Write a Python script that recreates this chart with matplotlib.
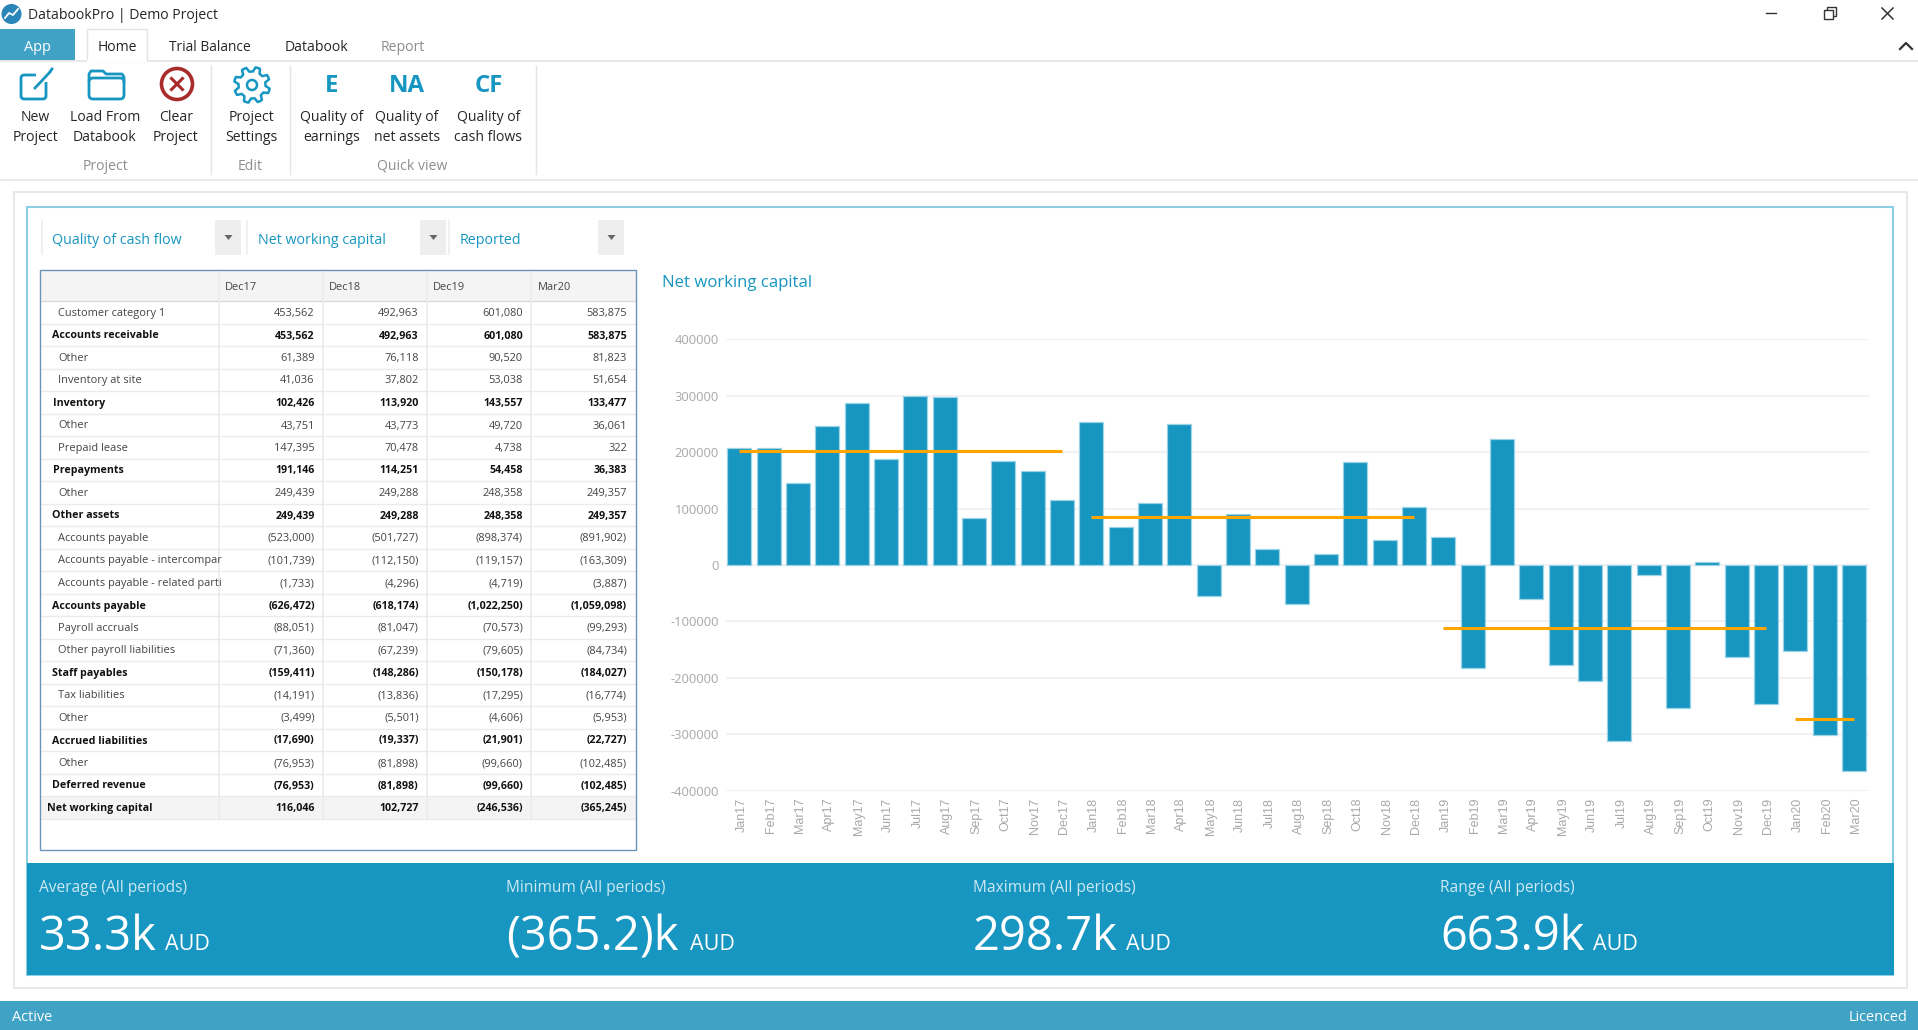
"""DatabookPro net working capital screen, rebuilt with matplotlib."""

import numpy as np
import matplotlib
matplotlib.use("Agg")
import matplotlib.pyplot as plt
from matplotlib.patches import Rectangle, FancyBboxPatch, Circle, Polygon
from matplotlib.transforms import ScaledTranslation

plt.rcParams["font.family"] = ["Open Sans", "DejaVu Sans"]

W, H = 1918, 1030

BLUE = "#1796C1"
BAR_EDGE = "#9CD3E6"
STATUS = "#40A3C6"
ORANGE = "#FFA500"
TEXT = "#262626"
GREY = "#8E8E8E"
LINE = "#E4E4E4"

# chart data
months = ["Jan17", "Feb17", "Mar17", "Apr17", "May17", "Jun17", "Jul17", "Aug17", "Sep17", "Oct17",
          "Nov17", "Dec17", "Jan18", "Feb18", "Mar18", "Apr18", "May18", "Jun18", "Jul18", "Aug18",
          "Sep18", "Oct18", "Nov18", "Dec18", "Jan19", "Feb19", "Mar19", "Apr19", "May19", "Jun19",
          "Jul19", "Aug19", "Sep19", "Oct19", "Nov19", "Dec19", "Jan20", "Feb20", "Mar20"]
nwc = [208000, 207000, 145500, 246000, 287000, 188000, 298700, 297600, 83400, 184600,
       166900, 116046, 253000, 68000, 110000, 250000, -54400, 90500, 27800, -69800,
       19000, 182000, 43800, 102727, 49700, -182000, 223000, -59800, -177000, -204700,
       -312000, -18300, -253000, 5300, -162700, -246536, -152000, -300500, -365245]
yticks = [400000, 300000, 200000, 100000, 0, -100000, -200000, -300000, -400000]

# yearly averages: first month index, last month index, value
avg_start = [0, 12, 24, 36]
avg_end = [11, 23, 35, 38]
avg_value = [202400, 85200, -111800, -272900]

# table data
table_cols = ["Dec17", "Dec18", "Dec19", "Mar20"]
row_labels = ["Customer category 1", "Accounts receivable", "Other", "Inventory at site", "Inventory",
              "Other", "Prepaid lease", "Prepayments", "Other", "Other assets", "Accounts payable",
              "Accounts payable - intercompar", "Accounts payable - related parti", "Accounts payable",
              "Payroll accruals", "Other payroll liabilities", "Staff payables", "Tax liabilities",
              "Other", "Accrued liabilities", "Other", "Deferred revenue", "Net working capital"]
bold_rows = [1, 4, 7, 9, 13, 16, 19, 21, 22]
dec17 = ["453,562", "453,562", "61,389", "41,036", "102,426", "43,751", "147,395", "191,146", "249,439",
         "249,439", "(523,000)", "(101,739)", "(1,733)", "(626,472)", "(88,051)", "(71,360)", "(159,411)",
         "(14,191)", "(3,499)", "(17,690)", "(76,953)", "(76,953)", "116,046"]
dec18 = ["492,963", "492,963", "76,118", "37,802", "113,920", "43,773", "70,478", "114,251", "249,288",
         "249,288", "(501,727)", "(112,150)", "(4,296)", "(618,174)", "(81,047)", "(67,239)", "(148,286)",
         "(13,836)", "(5,501)", "(19,337)", "(81,898)", "(81,898)", "102,727"]
dec19 = ["601,080", "601,080", "90,520", "53,038", "143,557", "49,720", "4,738", "54,458", "248,358",
         "248,358", "(898,374)", "(119,157)", "(4,719)", "(1,022,250)", "(70,573)", "(79,605)", "(150,178)",
         "(17,295)", "(4,606)", "(21,901)", "(99,660)", "(99,660)", "(246,536)"]
mar20 = ["583,875", "583,875", "81,823", "51,654", "133,477", "36,061", "322", "36,383", "249,357",
         "249,357", "(891,902)", "(163,309)", "(3,887)", "(1,059,098)", "(99,293)", "(84,734)", "(184,027)",
         "(16,774)", "(5,953)", "(22,727)", "(102,485)", "(102,485)", "(365,245)"]

# KPI band
kpi_labels = ["Average (All periods)", "Minimum (All periods)", "Maximum (All periods)", "Range (All periods)"]
kpi_values = ["33.3k", "(365.2)k", "298.7k", "663.9k"]


def fs(px):
    return px * 0.72


fig = plt.figure(figsize=(W / 100, H / 100), dpi=100, facecolor="white")
ui = fig.add_axes([0, 0, 1, 1])
ui.set_xlim(0, W)
ui.set_ylim(H, 0)
ui.axis("off")


def rect(x0, y0, x1, y1, fc="none", ec="none", lw=1.0, z=1):
    ui.add_patch(Rectangle((x0, y0), x1 - x0, y1 - y0, facecolor=fc, edgecolor=ec, linewidth=lw, zorder=z))


def label(x, y, s, size=15, color=TEXT, ha="left", va="center", **kw):
    if va == "center":
        y = y + 1.2  # Open Sans sits a little high against the original UI font
    return ui.text(x, y, s, fontsize=fs(size), color=color, ha=ha, va=va, zorder=5, **kw)


# ------------------------------------------------------------------ #
# title bar and ribbon
# ------------------------------------------------------------------ #
ui.add_patch(Circle((11.5, 14), 10, facecolor="#2A86B8", zorder=3))
ui.plot([5, 9, 13, 18], [18, 13, 15, 9], color="white", lw=1.3, zorder=4)
label(28, 14.5, "DatabookPro | Demo Project", 14)

# window buttons
ui.plot([1766, 1776], [13, 13], color="#333333", lw=1)
rect(1827, 7, 1836, 16, ec="#333333", z=2)
rect(1824, 10, 1833, 19, fc="white", ec="#333333", z=3)
ui.plot([1882, 1893], [8, 19], color="#333333", lw=1.1)
ui.plot([1882, 1893], [19, 8], color="#333333", lw=1.1)
ui.plot([1900, 1906, 1912], [49, 43, 49], color="#333333", lw=1.6)

rect(0, 29, 75, 60, fc=STATUS)
label(37.5, 46, "App", 14.5, "white", ha="center")
ui.plot([0, W], [60.5, 60.5], color=LINE, lw=1.2, zorder=2)
rect(87, 29, 146.5, 61, fc="white", ec=LINE, z=3)
ui.plot([87.5, 146], [60.5, 60.5], color="white", lw=1.6, zorder=4)
label(117, 46, "Home", 14, ha="center")
label(210, 46, "Trial Balance", 13.8, ha="center")
label(316.5, 46, "Databook", 14, ha="center")
label(403, 46, "Report", 14, "#8C8C8C", ha="center")

for sx in [211, 290, 535.5]:
    ui.plot([sx, sx], [66, 174], color=LINE, lw=1)
ui.plot([0, W], [179.5, 179.5], color=LINE, lw=1.2)

ribbon_x = [35, 105, 176, 251, 331.5, 407, 488.5]
ribbon_top = ["New", "Load From", "Clear", "Project", "Quality of", "Quality of", "Quality of"]
ribbon_bottom = ["Project", "Databook", "Project", "Settings", "earnings", "net assets", "cash flows"]
for bx, t, b in zip(ribbon_x, ribbon_top, ribbon_bottom):
    label(bx, 116, t, 14, ha="center")
    label(bx, 136, b, 14, ha="center")
for gx, g in zip([105, 250, 412], ["Project", "Edit", "Quick view"]):
    label(gx, 165, g, 14, GREY, ha="center")

# new project icon
ui.add_patch(FancyBboxPatch((21, 75), 25, 24, boxstyle="round,pad=0,rounding_size=3",
                            facecolor="none", edgecolor=BLUE, linewidth=2, zorder=3))
rect(36, 70, 50, 82, fc="white", z=4)
ui.plot([35, 50], [88, 72], color=BLUE, lw=2, zorder=5)
ui.plot([50.5, 52], [71, 69], color=BLUE, lw=2, zorder=5)

# folder icon
ui.add_patch(FancyBboxPatch((89, 78), 35, 21, boxstyle="round,pad=0,rounding_size=4",
                            facecolor="none", edgecolor=BLUE, linewidth=2, zorder=3))
ui.plot([89, 89, 91, 103, 106, 122, 124, 124], [80, 74, 71, 71, 74, 74, 77, 81], color=BLUE, lw=2, zorder=3)

# clear icon
ui.add_patch(Circle((177, 84), 15.5, facecolor="white", edgecolor="#A82C2C", linewidth=2.6, zorder=3))
ui.plot([171.5, 182.5], [78.5, 89.5], color="#A82C2C", lw=2.2, zorder=4)
ui.plot([171.5, 182.5], [89.5, 78.5], color="#A82C2C", lw=2.2, zorder=4)

# gear icon
ang = np.linspace(0, 2 * np.pi, 48, endpoint=False)
rad = np.where((np.arange(48) % 6) < 3, 18.0, 13.5)
ui.add_patch(Polygon(np.c_[252 + rad * np.cos(ang + 0.2), 85 + rad * np.sin(ang + 0.2)], closed=True,
                     facecolor="white", edgecolor=BLUE, linewidth=1.8, joinstyle="round", zorder=3))
ui.add_patch(Circle((252, 85), 5, facecolor="white", edgecolor=BLUE, linewidth=1.8, zorder=4))

for qx, q in zip(ribbon_x[4:], ["E", "NA", "CF"]):
    label(qx, 84.5, q, 24, BLUE, ha="center", fontweight="bold")

# ------------------------------------------------------------------ #
# panels and dropdowns
# ------------------------------------------------------------------ #
rect(13.5, 192, 1907, 988, ec="#E8E8E8", lw=1.5)
rect(26.5, 207, 1893, 975, ec="#8CCFE4", lw=1.5)
rect(27, 863, 1893.5, 975, fc=BLUE, z=2)
rect(0, 1001, W, H, fc=STATUS)
label(12, 1016.5, "Active", 14.5, "white")
label(1907, 1016.5, "Licenced", 14.5, "white", ha="right")

for sx in [41.5, 246.5, 449]:
    ui.plot([sx, sx], [221, 254], color="#EEEEEE", lw=1.2)
drop_text = ["Quality of cash flow", "Net working capital", "Reported"]
drop_x = [52, 257.5, 460]
button_x = [215, 420, 598]
for tx, bx, s in zip(drop_x, button_x, drop_text):
    label(tx, 239, s, 14.2, BLUE)
    rect(bx, 220, bx + 26, 255, fc="#EEEEEE")
    ui.add_patch(Polygon([(bx + 9.5, 235), (bx + 17.5, 235), (bx + 13.5, 240)], closed=True,
                         facecolor="#666666", zorder=4))

# ------------------------------------------------------------------ #
# table
# ------------------------------------------------------------------ #
col_edges = [218.6, 322.6, 426.6, 531, 635.8]
row_h = 22.5
table_top = 301
rect(40, 269.5, 635.8, 301, fc="#F4F4F4")
rect(40, table_top + 22 * row_h, 635.8, table_top + 23 * row_h, fc="#F4F4F4")
for k in range(1, 24):
    ui.plot([40, 635.8], [table_top + k * row_h] * 2, color="#EBEBEB", lw=1, zorder=2)
ui.plot([40, 635.8], [table_top, table_top], color="#DADADA", lw=1, zorder=2)
for ex in col_edges[:-1]:
    ui.plot([ex, ex], [269.5, table_top + 23 * row_h], color="#EBEBEB", lw=1.2, zorder=2)
rect(39.5, 269.5, 635.8, 849.5, ec="#6D93B8", lw=1.0, z=4)

for cx, c in zip(col_edges[:-1], table_cols):
    label(cx + 6.5, 286, c, 11, "#444444")

num_right = [314.7, 418.7, 523, 627]
for r, s in enumerate(row_labels):
    y = table_top + 11.3 + r * row_h
    bold = r in bold_rows
    lx = 46.6 if r == 22 else (52.5 if bold else 58.5)
    size = 10.6 if bold else 11
    label(lx, y, s, size, "#111111" if bold else "#444444", fontweight="bold" if bold else "normal")
    for rx, col in zip(num_right, [dec17, dec18, dec19, mar20]):
        label(rx, y, col[r], size, "#111111" if bold else "#444444", ha="right",
              fontweight="bold" if bold else "normal")

# ------------------------------------------------------------------ #
# chart
# ------------------------------------------------------------------ #
label(662, 282, "Net working capital", 16.8, BLUE)

ax_left, ax_right, ax_top, ax_bottom = 726, 1868.7, 339.3, 790.7
ax = fig.add_axes([ax_left / W, 1 - ax_bottom / H, (ax_right - ax_left) / W, (ax_bottom - ax_top) / H])
ax.patch.set_alpha(0)
x = np.arange(len(months))
ax.bar(x, nwc, width=0.82, color=BLUE, edgecolor=BAR_EDGE, linewidth=0.9, zorder=3)
for i0, i1, v in zip(avg_start, avg_end, avg_value):
    ax.plot([i0, i1], [v, v], color=ORANGE, lw=2.2, solid_capstyle="butt", zorder=4)
ax.set_xlim(-0.457, 38.5)
ax.set_ylim(-400000, 400000)
ax.set_yticks(yticks)
ax.set_yticklabels([str(v) for v in yticks], fontsize=fs(13), color="#A8A8A8")
ax.set_xticks(x)
ax.set_xticklabels(months, rotation=90, fontsize=fs(12.5), color="#A8A8A8", family="Liberation Sans")
ax.tick_params(axis="both", length=0, pad=5)
shift = ScaledTranslation(2 / 100, 0, fig.dpi_scale_trans)
for t in ax.get_xticklabels():
    t.set_transform(t.get_transform() + shift)
ax.grid(axis="y", color="#F2F2F2", lw=1.5, zorder=0)
ax.set_axisbelow(True)
for sp in ax.spines.values():
    sp.set_visible(False)

# ------------------------------------------------------------------ #
# KPI band
# ------------------------------------------------------------------ #
kpi_x = [39, 506, 972.7, 1440]
aud_x = [165, 689.5, 1126, 1593]
for kx, ax_x, t, v in zip(kpi_x, aud_x, kpi_labels, kpi_values):
    label(kx, 887, t, 15.5, "#CDE9F3")
    label(kx, 950, v, 47, "white", va="baseline")
    label(ax_x, 950, "AUD", 21.5, "white", va="baseline")

fig.savefig("out.png", dpi=100)
